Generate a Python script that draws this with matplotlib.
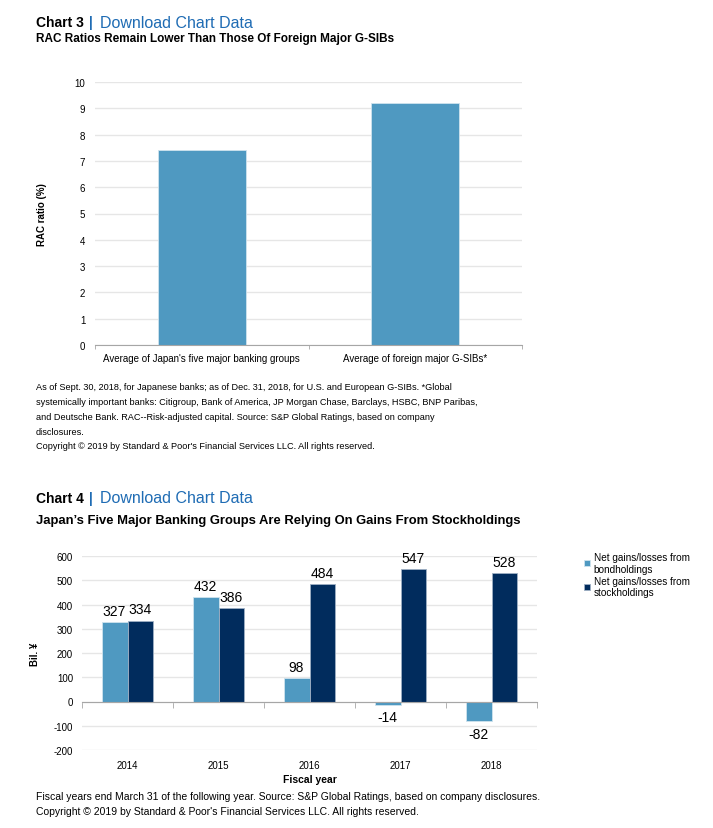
import numpy as np
import matplotlib
matplotlib.use("Agg")
import matplotlib.pyplot as plt

plt.rcParams['font.family'] = ['Liberation Sans', 'DejaVu Sans']
plt.rcParams['axes.unicode_minus'] = False

# Chart 3 data
rac_cats = ["Average of Japan's five major banking groups", "Average of foreign major G-SIBs*"]
rac_vals = [7.42, 9.22]

# Chart 4 data
years = ["2014", "2015", "2016", "2017", "2018"]
bond_gains = [327, 432, 98, -14, -82]
stock_gains = [334, 386, 484, 547, 528]

light = '#4f99c1'
navy = '#012c5d'
grid_c = '#e6e6e6'
axis_c = '#a6a6a6'
blue_link = '#1f6cb4'

W, H = 713, 829
fig = plt.figure(figsize=(W / 100, H / 100), dpi=100)


def fx(px):
    return px / W


def fy(py):
    return 1 - py / H


def style_axes(ax, ypad):
    for s in ['top', 'right', 'left']:
        ax.spines[s].set_visible(False)
    ax.spines['bottom'].set_color(axis_c)
    ax.yaxis.grid(True, color=grid_c, lw=1)
    ax.set_axisbelow(True)
    ax.tick_params(axis='y', length=0, labelsize=7, pad=ypad)
    ax.tick_params(axis='x', length=0, labelsize=7, pad=6)


def header(y1, y2, num, subtitle, subsize):
    fig.text(fx(36), fy(y1), "Chart " + num, fontsize=10, fontweight='bold', va='center')
    fig.text(fx(89), fy(y1), "|", fontsize=10, fontweight='bold', color=blue_link, va='center')
    fig.text(fx(100), fy(y1), "Download Chart Data", fontsize=11.5, color=blue_link, va='center')
    fig.text(fx(36), fy(y2), subtitle, fontsize=subsize, fontweight='bold', va='center')


# ---------- Chart 3 ----------
header(23, 39, "3", "RAC Ratios Remain Lower Than Those Of Foreign Major G-SIBs", 8.5)

ax1 = fig.add_axes([fx(95), fy(346), fx(522 - 95), (346 - 83) / H])
x1 = np.arange(len(rac_cats))
ax1.bar(x1, rac_vals, width=0.41, color=light, edgecolor='#cfe3ee', lw=0.6)
ax1.set_xlim(-0.5, len(rac_cats) - 0.5)
ax1.set_ylim(0, 10)
ax1.set_yticks(range(0, 11))
style_axes(ax1, 7)
ax1.set_xticks(x1)
ax1.set_xticklabels(rac_cats)
ax1.set_xticks(np.arange(len(rac_cats) + 1) - 0.5, minor=True)
ax1.tick_params(axis='x', which='minor', length=3, color=axis_c)
ax1.set_ylabel("RAC ratio (%)", fontsize=7, fontweight='bold', labelpad=20)

notes3 = ["As of Sept. 30, 2018, for Japanese banks; as of Dec. 31, 2018, for U.S. and European G-SIBs. *Global",
          "systemically important banks: Citigroup, Bank of America, JP Morgan Chase, Barclays, HSBC, BNP Paribas,",
          "and Deutsche Bank. RAC--Risk-adjusted capital. Source: S&P Global Ratings, based on company",
          "disclosures.",
          "Copyright \u00a9 2019 by Standard & Poor's Financial Services LLC. All rights reserved."]
for i, line in enumerate(notes3):
    fig.text(fx(36), fy(388 + i * 14.7), line, fontsize=6.6, va='center')

# ---------- Chart 4 ----------
header(499, 521, "4", "Japan\u2019s Five Major Banking Groups Are Relying On Gains From Stockholdings", 9.4)

ax2 = fig.add_axes([fx(82), fy(751), fx(537 - 82), (751 - 557) / H])
x2 = np.arange(len(years))
bw = 0.285
b1 = ax2.bar(x2 - bw / 2, bond_gains, width=bw, color=light, edgecolor='#cfe3ee', lw=0.6,
             label="Net gains/losses from\nbondholdings")
b2 = ax2.bar(x2 + bw / 2, stock_gains, width=bw, color=navy, edgecolor='#9fb0c4', lw=0.6,
             label="Net gains/losses from\nstockholdings")
ax2.set_xlim(-0.5, len(years) - 0.5)
ax2.set_ylim(-200, 600)
ax2.set_yticks(range(-200, 601, 100))
style_axes(ax2, 6.5)
ax2.spines['bottom'].set_position(('data', 0))
ax2.set_xticks(x2)
ax2.set_xticklabels(years)
ax2.tick_params(axis='x', pad=42)
ax2.set_xticks(np.arange(len(years) + 1) - 0.5, minor=True)
ax2.tick_params(axis='x', which='minor', length=4, color=axis_c, direction='out')
ax2.set_xlabel("Fiscal year", fontsize=7.5, fontweight='bold', labelpad=3)
ax2.set_ylabel("Bil. \u00a5", fontsize=7, fontweight='bold', labelpad=10)

num_font = ['Liberation Sans Narrow', 'Liberation Sans']
for bars in (b1, b2):
    for rect in bars:
        v = rect.get_height()
        cx = rect.get_x() + rect.get_width() / 2
        if v >= 0:
            ax2.annotate(f"{v:.0f}", (cx, v), xytext=(0, 3), textcoords='offset points',
                         ha='center', va='bottom', fontsize=10, family=num_font)
        else:
            ax2.annotate(f"{v:.0f}", (cx, v), xytext=(0, -4), textcoords='offset points',
                         ha='center', va='top', fontsize=10, family=num_font)

fig.legend(handles=[b1, b2], loc='upper left', bbox_to_anchor=(fx(580), fy(549)),
           frameon=False, fontsize=7.2, handlelength=0.6, handleheight=0.6,
           handletextpad=0.35, labelspacing=0.2, borderaxespad=0)

fig.text(fx(36), fy(797), "Fiscal years end March 31 of the following year. Source: S&P Global Ratings, based on company disclosures.",
         fontsize=7.5, va='center')
fig.text(fx(36), fy(812), "Copyright \u00a9 2019 by Standard & Poor's Financial Services LLC. All rights reserved.",
         fontsize=7.5, va='center')

fig.savefig("out.png", dpi=100)
